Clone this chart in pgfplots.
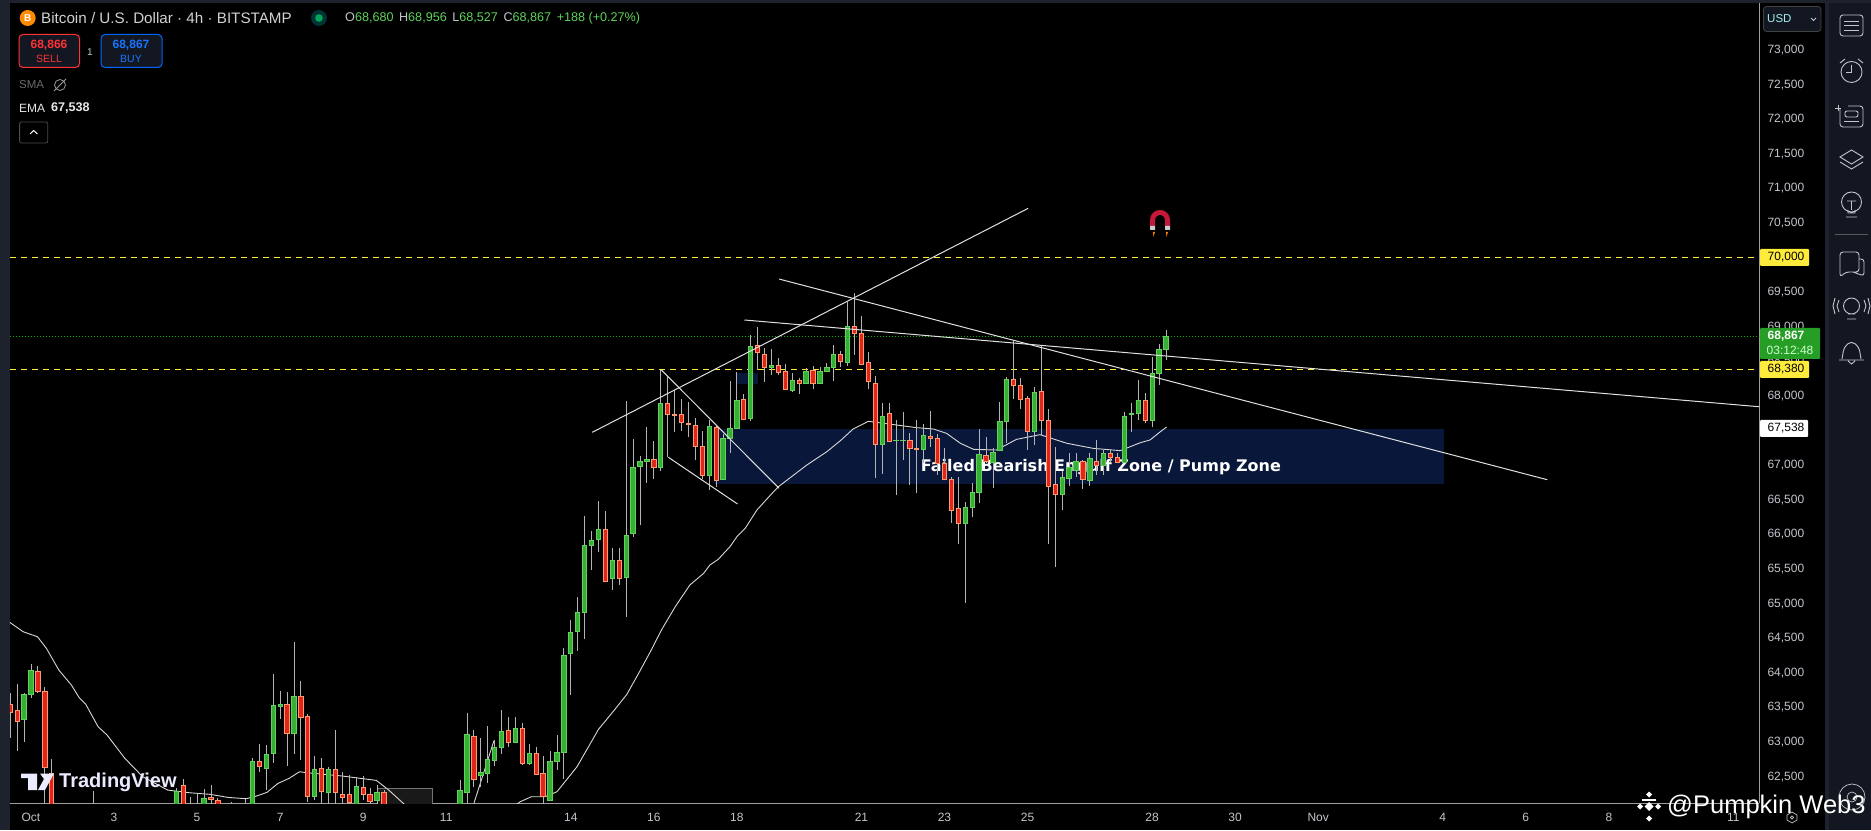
\documentclass[border=0pt]{standalone}
\usepackage{fontspec}
\setmainfont{Liberation Sans}
\newfontfamily\dv{DejaVu Sans}
\usepackage{pgfplots}
\pgfplotsset{compat=1.18}
\newcommand\fs[1]{\fontsize{#1}{#1}\selectfont}
\definecolor{frame}{HTML}{1E222D}
\definecolor{side}{HTML}{131722}
\definecolor{tick}{HTML}{C2C5CC}
\definecolor{wickc}{HTML}{B4B4B4}
\definecolor{gfill}{HTML}{35B035}
\definecolor{gedge}{HTML}{62D25A}
\definecolor{rfill}{HTML}{E0261C}
\definecolor{redge}{HTML}{FF9A6C}
\definecolor{zone}{HTML}{09173A}
\definecolor{yel}{HTML}{FFEB3B}
\definecolor{okg}{HTML}{5FD35B}
\definecolor{pane}{HTML}{E8E8E8}
\definecolor{magnet}{HTML}{C2183A}
\pgfplotsset{
 candleG/.style={draw=gedge,fill=gfill,line width=0.9pt},
 candleR/.style={draw=redge,fill=rfill,line width=0.9pt},
 wick/.style={draw=wickc,line width=0.8pt},
 trend/.style={draw=white!88!black,line width=1pt},
}
% \G / \R {candle}{open}{high}{low}{close}
\newcommand\cand[6]{%
 \pgfmathsetmacro\xl{#2-0.31}\pgfmathsetmacro\xr{#2+0.31}%
 \addplot[wick] coordinates {(#2,#5)(#2,#4)};
 \addplot[#1] coordinates {(\xl,#3)(\xr,#3)(\xr,#6)(\xl,#6)} --cycle;
}
\newcommand\G[5]{\cand{candleG}{#1}{#2}{#3}{#4}{#5}}
\newcommand\R[5]{\cand{candleR}{#1}{#2}{#3}{#4}{#5}}
\begin{document}
\begin{tikzpicture}
\begin{scope}[x=1pt,y=1pt]
\path[use as bounding box] (0,0) rectangle (1871,830);
\fill[frame] (0,0) rectangle (1871,830);
\fill[black] (10,0) rectangle (1825,827);
\fill[side] (1829,0) rectangle (1871,827);
\end{scope}
\begin{axis}[
 at={(10pt,26.7pt)},anchor=south west,scale only axis,width=1749pt,height=800.3pt,
 xmin=-3.03,xmax=249.7,ymin=62116,ymax=73681,
 axis x line*=bottom,axis y line*=right,
 axis line style={draw=white!62!black,line width=0.9pt,-},
 major tick length=0pt,
 xtick={0,12,24,36,48,60,78,90,102,120,132,144,162,174,186,204,216,228,246},
 xticklabels={Oct,3,5,7,9,11,14,16,18,21,23,25,28,30,Nov,4,6,8,11},
 ytick={62500,63000,63500,64000,64500,65000,65500,66000,66500,67000,67500,68000,68500,69000,69500,70000,70500,71000,71500,72000,72500,73000},
 scaled y ticks=false,
 /pgf/number format/1000 sep={,},
 /pgf/number format/assume math mode=true,
 xticklabel style={font=\fs{12},text=tick,yshift=-6pt},
 yticklabel pos=right,
 ylabel={},
 yticklabel style={font=\fs{12},text=tick,anchor=west,xshift=5pt,yshift=0pt},
]
% zone
\addplot[fill=zone,draw=none] coordinates {(98.8,66730)(204.2,66730)(204.2,67525)(98.8,67525)} --cycle;
\addplot[fill=zone,draw=none] coordinates {(102,68175)(105.1,68175)(105.1,68334)(102,68334)} --cycle;
\node[text=white,font=\dv\bfseries\fs{16}] at (axis cs:154.6,66975) {Failed Bearish Engulf Zone / Pump Zone};
% grey box
\addplot[fill=white!10!black,draw=white!45!black,line width=0.8pt] coordinates {(50,62000)(50,62331)(58,62331)(58,62000)} --cycle;
% EMA
\addplot[draw=white!85!black,line width=0.9pt] coordinates {
(-3.05,64730)(-1.12,64595)(0.94,64523)(2.23,64355)(4.03,64041)(5.84,63825)(6.97,63642)(7.9,63550)(9.7,63223)(11,63102)(13.57,62765)(16.15,62500)(19.75,62307)(22.85,62269)(25.9,62245)(28.5,62201)(31.1,62182)(32.6,62221)(34.1,62274)(35.7,62404)(37.3,62476)(38.8,62572)(39.9,62558)(45,62510)(49.9,62447)(51.7,62307)(53.8,62115)(54.5,62050)};
\addplot[draw=white!85!black,line width=0.9pt] coordinates {
(69.5,62050)(70.7,62139)(72.3,62211)(74.3,62211)(76,62283)(78.9,62644)(82,63184)(84.1,63439)(86.1,63690)(87.8,63993)(89.5,64306)(91.1,64620)(93.1,64957)(95.2,65270)(97.2,65439)(98.1,65559)(99.3,65641)(101,65824)(102,65968)(103.2,66089)(104.9,66354)(107.3,66619)(108,66691)(112.1,67004)(115,67197)(116.9,67351)(118.8,67525)(121,67636)(123.2,67607)(128,67544)(130.4,67525)(132.3,67462)(134.3,67318)(136.2,67231)(139.5,67221)(142.4,67375)(145.8,67443)(149.7,67318)(153.5,67245)(157.4,67212)(160.3,67327)(161.7,67366)(163.2,67486)(164.1,67554)};
\addplot[draw=white!85!black,line width=0.9pt] coordinates {(64,62115)(66.9,63020)};
% levels
\addplot[draw=yel,line width=1pt,dash pattern=on 6pt off 5pt] coordinates {(-3.03,70000)(249.7,70000)};
\addplot[draw=yel,line width=1pt,dash pattern=on 6pt off 5pt] coordinates {(-3.03,68380)(249.7,68380)};
\addplot[draw=green!70!black,line width=0.9pt,dash pattern=on 1pt off 2pt] coordinates {(-3.03,68867)(249.7,68867)};
% candles
\R{-3}{63545}{63714}{63064}{63425}
\R{-2}{63459}{63839}{62876}{63295}
\G{-1}{63324}{63714}{63006}{63695}
\G{0}{63685}{64128}{63637}{64041}
\R{1}{64027}{64099}{63714}{63728}
\R{2}{63733}{63801}{62000}{62635}
\R{3}{62550}{62750}{61800}{61900}
\G{9}{61950}{62293}{61900}{62000}
\G{21}{61900}{62331}{61800}{62293}
\R{22}{62375}{62461}{61800}{61900}
\R{23}{62050}{62211}{61900}{62000}
\G{24}{62000}{62259}{61900}{62050}
\G{25}{62000}{62327}{61900}{62192}
\R{26}{62195}{62380}{61950}{62175}
\R{27}{62158}{62197}{61950}{62000}
\R{29}{62050}{62139}{61900}{62000}
\R{31}{62050}{62172}{61900}{62000}
\G{32}{62000}{62765}{61950}{62726}
\R{33}{62726}{62972}{62572}{62645}
\G{34}{62616}{62958}{62307}{62823}
\G{35}{62837}{63984}{62702}{63536}
\G{36}{63512}{63738}{63338}{63550}
\R{37}{63550}{63728}{62659}{63121}
\G{38}{63121}{64441}{62828}{63666}
\R{39}{63666}{63882}{62741}{63353}
\R{40}{63377}{63406}{62134}{62211}
\G{41}{62211}{62799}{62163}{62606}
\R{42}{62620}{62765}{62050}{62293}
\G{43}{62269}{62640}{62050}{62611}
\R{44}{62611}{63174}{62050}{62269}
\R{45}{62245}{62563}{62050}{62201}
\R{46}{62250}{62524}{62050}{62134}
\G{47}{62050}{62490}{62000}{62360}
\R{48}{62346}{62510}{62163}{62240}
\R{49}{62245}{62331}{62050}{62139}
\G{50}{62153}{62380}{62050}{62278}
\R{51}{62274}{62307}{62000}{62050}
\G{62}{62000}{62452}{61950}{62307}
\G{63}{62269}{63415}{62050}{63112}
\R{64}{63083}{63174}{62356}{62461}
\G{65}{62514}{63059}{62356}{62563}
\G{66}{62543}{63232}{62404}{62751}
\G{67}{62731}{63030}{62654}{62929}
\G{68}{62919}{63463}{62828}{63160}
\R{69}{63170}{63367}{62934}{62991}
\G{70}{62991}{63367}{62982}{63203}
\R{71}{63198}{63276}{62669}{62688}
\G{72}{62693}{62972}{62669}{62837}
\R{73}{62837}{62933}{62534}{62534}
\R{74}{62548}{62799}{62050}{62211}
\G{75}{62153}{62876}{62153}{62721}
\G{76}{62717}{63102}{62596}{62852}
\G{77}{62847}{64354}{62471}{64253}
\G{78}{64277}{64764}{63680}{64586}
\G{79}{64595}{65101}{64316}{64875}
\G{80}{64870}{66262}{64494}{65843}
\G{81}{65838}{66046}{65487}{65915}
\G{82}{65925}{66484}{65752}{66074}
\R{83}{66074}{66339}{65318}{65318}
\G{84}{65362}{65800}{65198}{65626}
\R{85}{65626}{65800}{65270}{65362}
\G{86}{65376}{67929}{64812}{65988}
\G{87}{66017}{67380}{65968}{66970}
\G{88}{66980}{67134}{66137}{67057}
\G{89}{67057}{67548}{66749}{67086}
\R{90}{67086}{67346}{66802}{66966}
\G{91}{66966}{68377}{66922}{67895}
\R{92}{67895}{68281}{67115}{67732}
\R{93}{67736}{68088}{67486}{67717}
\R{94}{67736}{67953}{67500}{67616}
\R{95}{67606}{67915}{67414}{67587}
\R{96}{67577}{67679}{67076}{67269}
\R{97}{67274}{67495}{66802}{66850}
\G{98}{66850}{67654}{66643}{67563}
\R{99}{67548}{67582}{66691}{66778}
\G{100}{66792}{67447}{66792}{67389}
\G{101}{67385}{68218}{67182}{67534}
\G{102}{67529}{68353}{67529}{67939}
\R{103}{67953}{68025}{67654}{67664}
\G{104}{67674}{68883}{67645}{68719}
\R{105}{68734}{69000}{68377}{68628}
\R{106}{68604}{68691}{68209}{68411}
\G{107}{68411}{68676}{68305}{68445}
\R{108}{68445}{68546}{68305}{68339}
\R{109}{68358}{68464}{68088}{68093}
\G{110}{68079}{68339}{68060}{68228}
\R{111}{68228}{68262}{68031}{68180}
\G{112}{68180}{68401}{68180}{68358}
\R{113}{68377}{68435}{68103}{68180}
\G{114}{68180}{68416}{68180}{68358}
\G{115}{68353}{68474}{68353}{68416}
\G{116}{68416}{68739}{68218}{68604}
\R{117}{68604}{68652}{68416}{68498}
\G{118}{68483}{69365}{68435}{69008}
\R{119}{69008}{69485}{68594}{68902}
\R{120}{68907}{69158}{68454}{68454}
\R{121}{68488}{68633}{68103}{68209}
\R{122}{68185}{68286}{66817}{67298}
\G{123}{67298}{67896}{66875}{67713}
\R{124}{67751}{67896}{67342}{67342}
\G{125}{67360}{67655}{66576}{67365}
\G{126}{67360}{67770}{67077}{67365}
\R{127}{67361}{67462}{66716}{67241}
\R{128}{67245}{67655}{66605}{67226}
\G{129}{67226}{67597}{67029}{67433}
\R{130}{67419}{67785}{67270}{67385}
\R{131}{67390}{67453}{66865}{67024}
\R{132}{67029}{67250}{66788}{66793}
\R{133}{66797}{66836}{66171}{66345}
\R{134}{66378}{66836}{65863}{66157}
\G{135}{66157}{66475}{65015}{66393}
\G{136}{66388}{66740}{66258}{66610}
\G{137}{66605}{67525}{66460}{67159}
\R{138}{67144}{67409}{67029}{67058}
\G{139}{67038}{67255}{66677}{67188}
\G{140}{67212}{67915}{67212}{67636}
\G{141}{67631}{68281}{67318}{68243}
\R{142}{68243}{68811}{67963}{68151}
\R{143}{68156}{68257}{67814}{67949}
\R{144}{67968}{68002}{67226}{67486}
\G{145}{67486}{68137}{67294}{68055}
\R{146}{68069}{68729}{67438}{67650}
\R{147}{67650}{67809}{65863}{66691}
\R{148}{66725}{67265}{65535}{66576}
\G{149}{66576}{66923}{66354}{66826}
\G{150}{66807}{67173}{66701}{66971}
\G{151}{66923}{67173}{66836}{67058}
\R{152}{67058}{67077}{66658}{66793}
\G{153}{66778}{67173}{66701}{67101}
\R{154}{67058}{67366}{66865}{66995}
\G{155}{67005}{67221}{66865}{67173}
\R{156}{67173}{67221}{67038}{67110}
\R{157}{67110}{67173}{67029}{67038}
\G{158}{67038}{67770}{67029}{67708}
\G{159}{67732}{67896}{67481}{67751}
\G{160}{67746}{68233}{67655}{67939}
\R{161}{67939}{68040}{67616}{67645}
\G{162}{67645}{68570}{67558}{68329}
\G{163}{68324}{68748}{68161}{68676}
\G{164}{68680}{68956}{68527}{68867}
% trend lines
\addplot[trend] coordinates {(81.1,67477)(144.1,70714)};
\addplot[trend] coordinates {(108.1,69692)(219.1,66792)};
\addplot[trend] coordinates {(103.1,69100)(249.7,67847)};
\addplot[trend] coordinates {(91.1,68377)(108.1,66668)};
\addplot[trend] coordinates {(92.1,67116)(102.1,66441)};
\end{axis}
% overlays, y measured from the top
\begin{scope}[x=1pt,y=-1pt,yshift=830pt]
% header
\fill[orange!90!yellow] (27.7,18) circle (8);
\node[text=white,font=\fs{10}\bfseries] at (27.7,18) {B};
\node[anchor=west,text=pane!90!black,font=\fs{15.2},inner sep=0] at (41,18) {Bitcoin / U.S. Dollar · 4h · BITSTAMP};
\fill[teal!40!black] (319,18) circle (8);
\fill[teal!70!green] (319,18) circle (3.8);
\node[anchor=west,font=\fs{12.6},inner sep=0,text=tick] at (345,18) {O\textcolor{okg}{68,680} \,H\textcolor{okg}{68,956} \,L\textcolor{okg}{68,527} \,C\textcolor{okg}{68,867} \,\textcolor{okg}{+188 (+0.27\%)}};
% sell/buy
\filldraw[fill=side,draw=red!80!white,line width=1pt,rounded corners=4pt] (19,34.5) rectangle (79.5,67.5);
\filldraw[fill=side,draw=blue!60!cyan,line width=1pt,rounded corners=4pt] (101,34.5) rectangle (162,67.5);
\node[text=red!80!white,font=\fs{12}\bfseries] at (49,45) {68,866};
\node[text=red!80!white,font=\fs{10.5}] at (49,59) {SELL};
\node[text=blue!60!cyan!90!white,font=\fs{12}\bfseries] at (131,45) {68,867};
\node[text=blue!60!cyan!90!white,font=\fs{10.5}] at (131,59) {BUY};
\node[text=tick,font=\fs{10}] at (90,52) {1};
\node[anchor=west,text=white!42!black,font=\fs{11.5},inner sep=0] at (19,85) {SMA};
\draw[white!60!black,line width=0.8pt] (60,85) circle (5.5) (54,91)--(66,79);
\node[anchor=west,text=pane,font=\fs{12},inner sep=0] at (19,108.5) {EMA};
\node[anchor=west,text=pane,font=\fs{12.6}\bfseries,inner sep=0] at (51,108.5) {67,538};
\draw[white!30!black,line width=0.8pt,rounded corners=2pt] (19.6,122) rectangle (47.8,143);
\draw[white,line width=1pt] (30,134)--(33.7,130.5)--(37.4,134);
% price scale labels
\fill[yel,rounded corners=1pt] (1760,249) rectangle (1809,266);
\node[text=black,font=\fs{12}] at (1786,257.5) {70,000};
\fill[yel,rounded corners=1pt] (1760,361) rectangle (1809,378);
\node[text=black,font=\fs{12}] at (1786,369.5) {68,380};
\fill[green!55!black!85!white,rounded corners=1pt] (1760,328) rectangle (1820,359);
\node[text=white,font=\fs{12}\bfseries] at (1786,336.5) {68,867};
\node[text=white!80!green,font=\fs{12}] at (1790,350) {03:12:48};
\fill[white,rounded corners=1pt] (1760,420) rectangle (1808,437);
\node[text=black,font=\fs{12}] at (1786,428.5) {67,538};
% USD
\filldraw[fill=side,draw=white!26!black,line width=0.8pt,rounded corners=3pt] (1763.5,6.5) rectangle (1821,31.5);
\node[anchor=west,text=pane!70!cyan,font=\fs{11.5},inner sep=0] at (1767,19) {USD};
\draw[tick,line width=0.8pt] (1811,18)--(1813.5,20.5)--(1816,18);
% side icons
\begin{scope}[draw=tick,line width=0.9pt]
\draw[rounded corners=3pt] (1840,15) rectangle (1863,36);
\draw (1844,21)--(1859,21) (1844,25.5)--(1859,25.5) (1844,30)--(1859,30);
\draw (1851.5,72) circle (10.5) (1851.5,65)--(1851.5,72.5)--(1846,72.5) (1840,63)--(1845,59) (1858,59)--(1863,63);
\draw[rounded corners=3pt] (1840,109)--(1840,127)--(1863,127)--(1863,106)--(1848,106);
\draw (1838,105)--(1838,111) (1835,108)--(1841,108);
\draw[rounded corners=2pt] (1845,111) rectangle (1858,117);
\draw (1844,121)--(1859,121);
\draw (1851.5,150)--(1863,157)--(1851.5,164)--(1840,157)--cycle (1840,162)--(1851.5,169)--(1863,162);
\draw (1851.5,202) circle (10) (1846,217)--(1857,217) (1848,210)--(1848,213)--(1855,213)--(1855,210) (1847,201)--(1856,201) (1851.5,201)--(1851.5,210);
\draw[white!35!black] (1835,234)--(1868,234);
\draw[rounded corners=3pt] (1840,252)--(1859,252)--(1859,272)--(1846,272)--(1840,277)--cycle (1859,259)--(1864,259)--(1864,276)--(1853,272);
\draw (1851.5,306) circle (8) (1847,319)--(1856,319) (1848,314)--(1855,314) (1839,300)--(1837,306)--(1839,312) (1835,298)--(1833,306)--(1835,314) (1864,300)--(1866,306)--(1864,312) (1868,298)--(1870,306)--(1868,314);
\draw[rounded corners=4pt] (1842,359)--(1844,347)--(1851.5,341)--(1859,347)--(1861,359) ;
\draw (1839,360)--(1864,360) (1848,361)--(1851.5,364)--(1855,361);
\draw[line width=0.7pt] (1852,797) circle (13) (1852,797) circle (5);
\draw[line width=0.7pt] (1792,812)--(1797,815)--(1797,820)--(1792,823)--(1787,820)--(1787,815)--cycle (1792,817.5) circle (1.6);
\end{scope}
% magnet
\draw[magnet,line width=5pt] (1152.5,226)--(1152.5,220) arc (180:360:7.5)--(1167.5,226);
\fill[white!80!black] (1150,226) rectangle (1155,230) (1165,226) rectangle (1170,230);
\fill[orange] (1153,232) -- (1155,232) -- (1153.5,237) -- cycle (1166,232) -- (1168,232) -- (1166.5,237) -- cycle;
% TradingView logo
\fill[white!92!blue] (21,773.5) rectangle (37,778) (28,778) rectangle (37,790);
\fill[white!92!blue] (40,773.5)--(54,773.5)--(45,790)--(38,790)--(44,779)--cycle;
\node[anchor=west,text=white!92!blue,font=\bfseries\fs{20},inner sep=0] at (59,782) {TradingView};
% watermark
\fill[white] (1649,791.5)--(1652,794.5)--(1649,797.5)--(1646,794.5)--cycle (1640,803.5)--(1643,806.5)--(1640,809.5)--(1637,806.5)--cycle (1658,803.5)--(1661,806.5)--(1658,809.5)--(1655,806.5)--cycle (1649,815.5)--(1652,818.5)--(1649,821.5)--(1646,818.5)--cycle;
\draw[white,line width=2pt] (1642,800)--(1649,800) (1656,800)--(1649,800);
\fill[white] (1649,802)--(1653.5,806.5)--(1649,811)--(1644.5,806.5)--cycle;
\node[anchor=west,text=white,font=\fs{25.5},inner sep=0] at (1667,806.5) {@Pumpkin Web3};
\end{scope}
\end{tikzpicture}
\end{document}
